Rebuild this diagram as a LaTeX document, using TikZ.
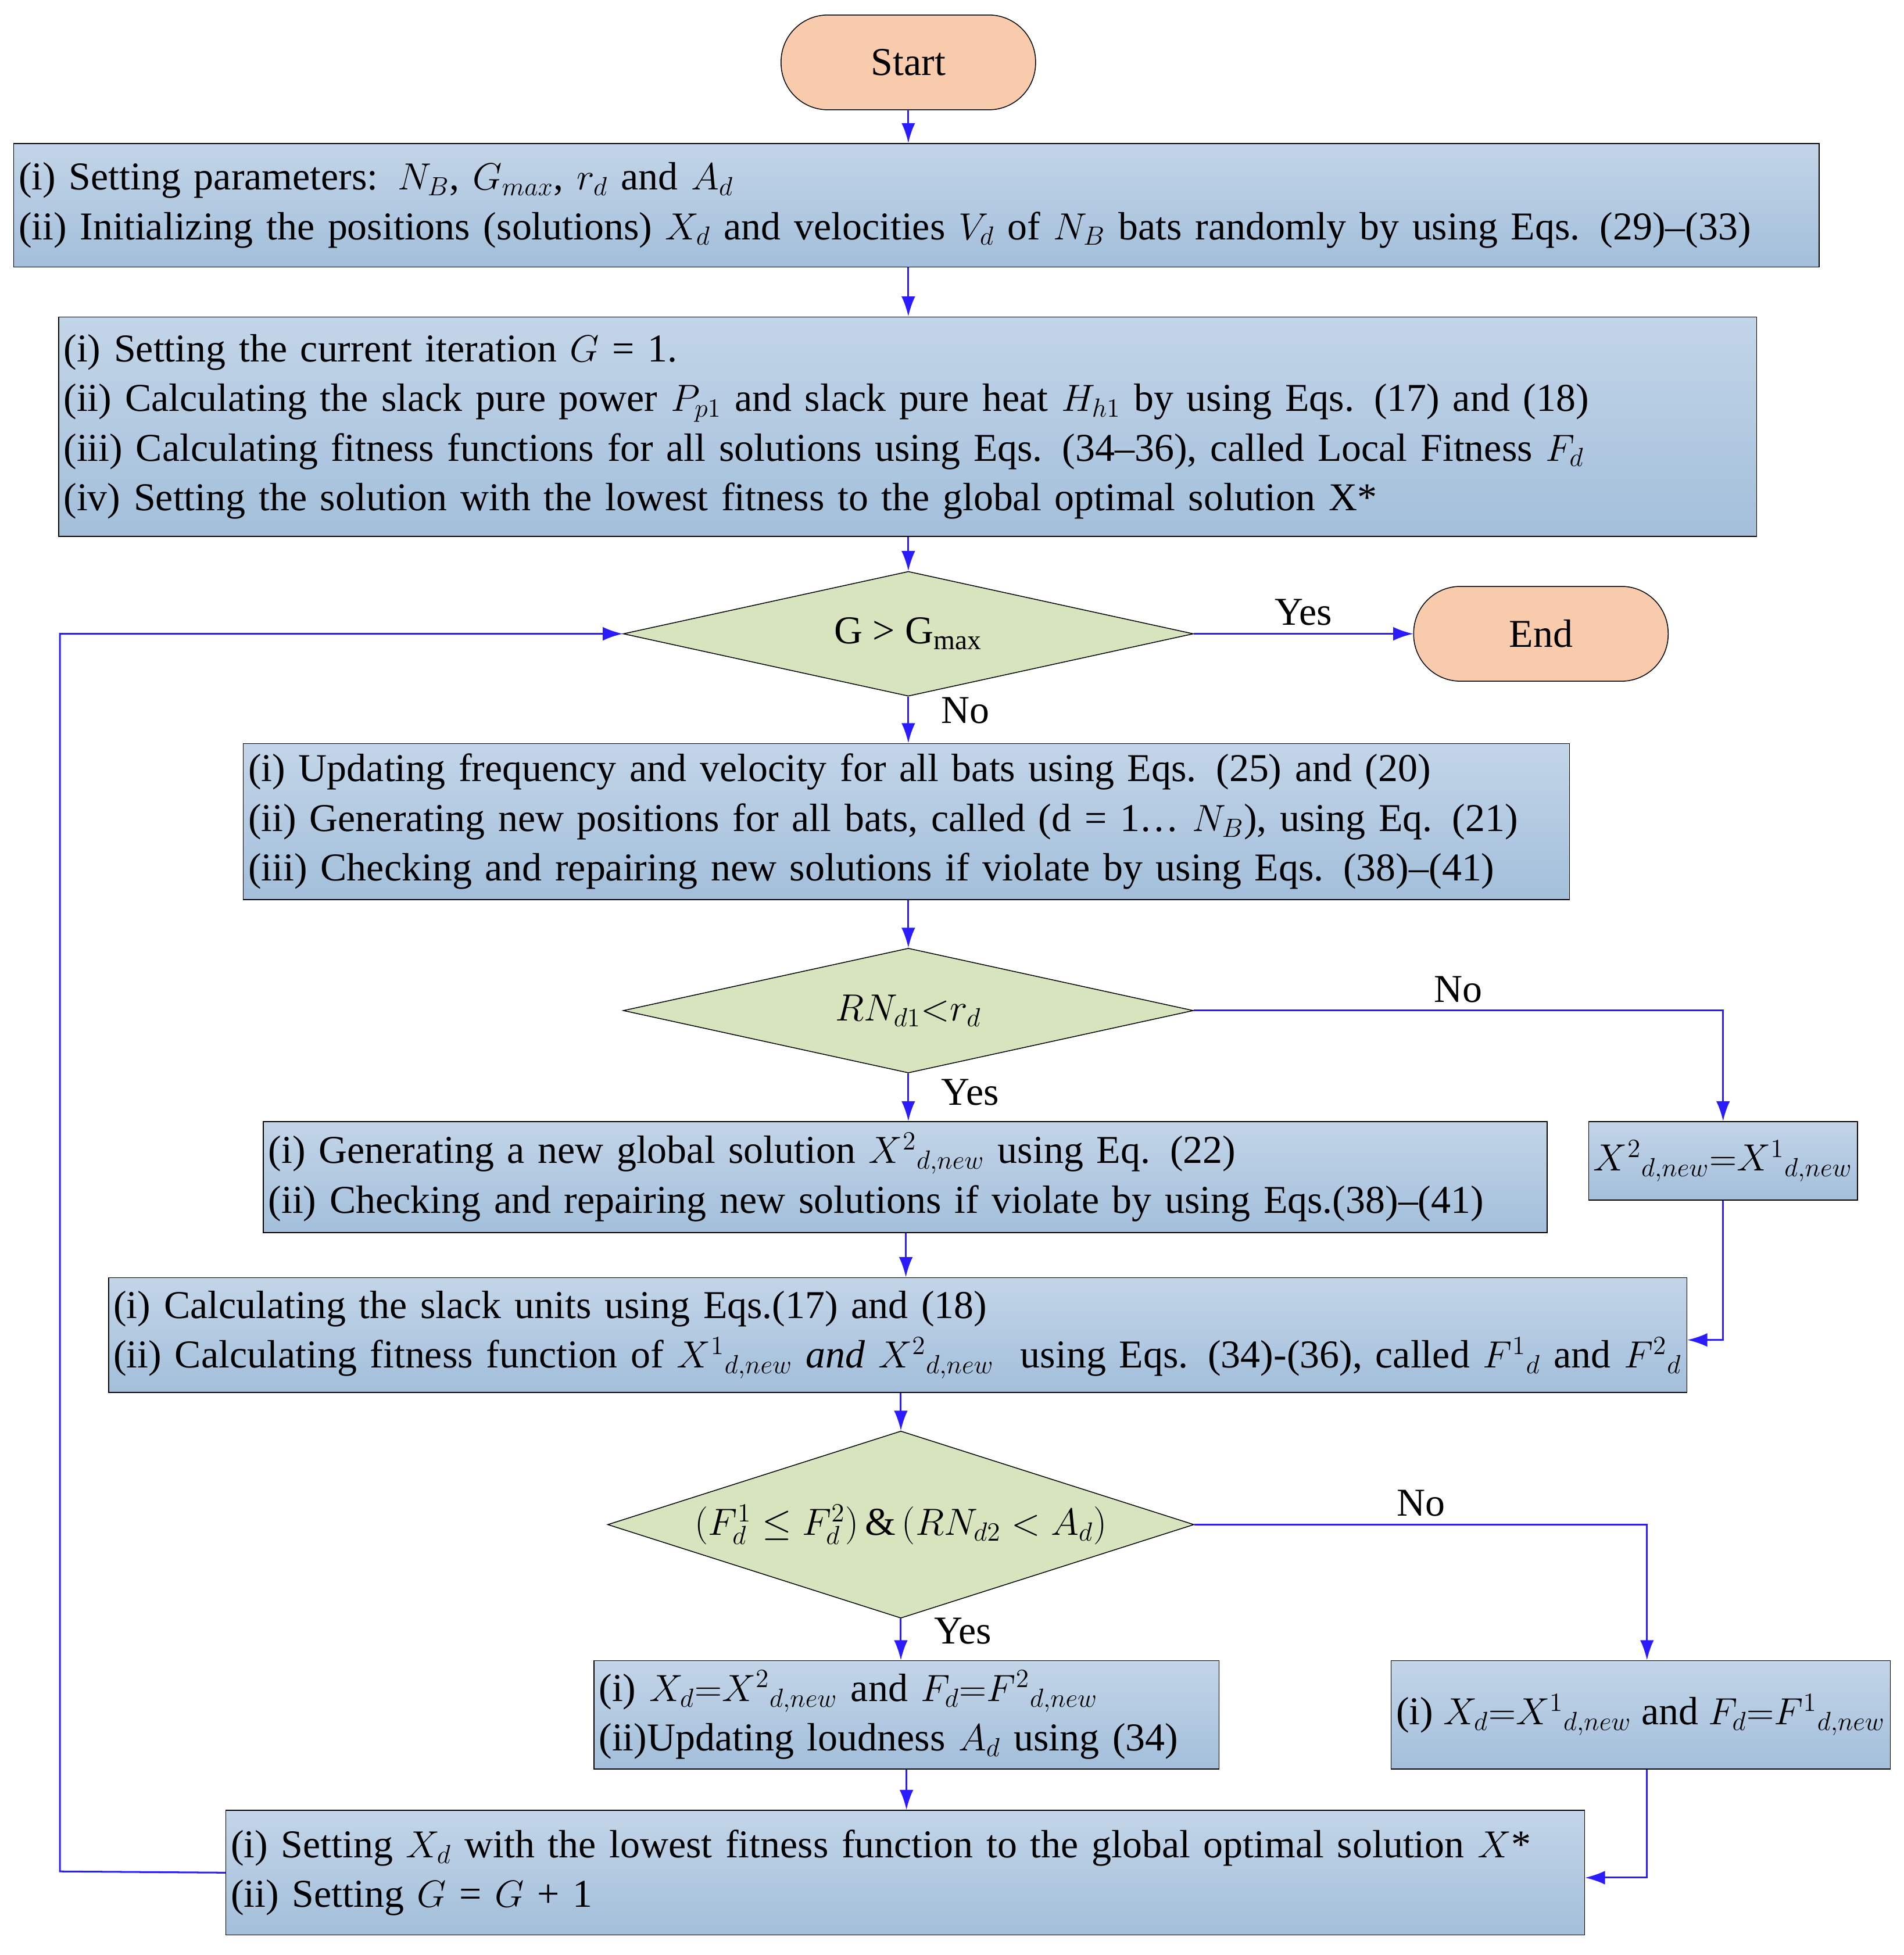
\documentclass[tikz,border=0pt]{standalone}
\usepackage{fontspec}
\setmainfont{Liberation Serif}
\usetikzlibrary{shapes.geometric,arrows.meta}
\definecolor{peach}{HTML}{F8CBAD}
\definecolor{boxtop}{HTML}{C3D5E8}
\definecolor{boxbot}{HTML}{A3BFDB}
\definecolor{olive}{HTML}{D7E4BD}
\definecolor{flow}{HTML}{2B1BFF}
\begin{document}
\begin{tikzpicture}[
        font=\fontsize{18}{22.6}\selectfont,
        terminal/.style={draw, fill=peach, rounded corners=0.75cm, minimum width=4.08cm, minimum height=1.52cm},
        procbox/.style={draw, top color=boxtop, bottom color=boxbot, align=left, inner sep=0.08cm},
        decision/.style={draw, fill=olive, diamond, inner sep=0pt},
        flowline/.style={draw=flow, thick, -{Latex[length=0.32cm,width=0.22cm]}},
        ans/.style={font=\fontsize{18}{20}\selectfont},
        ]
        \useasboundingbox (0,0) rectangle (30.52,-31.34);
        \node[terminal] (start) at (14.56,-1.0) {Start};
        \node[procbox, minimum width=28.94cm, minimum height=1.98cm, text width=28.78cm] (init) at (14.69,-3.29)
            {(i) Setting parameters: $N_B$, $G_{max}$, $r_d$ and $A_d$\\
             (ii) Initializing the positions (solutions) $X_d$ and velocities $V_d$ of $N_B$ bats randomly by using Eqs. (29)--(33)};
        \node[procbox, minimum width=27.22cm, minimum height=3.52cm, text width=27.06cm] (eval) at (14.55,-6.84)
            {(i) Setting the current iteration $G$ = 1.\\
             (ii) Calculating the slack pure power $P_{p1}$ and slack pure heat $H_{h1}$ by using Eqs. (17) and (18)\\
             (iii) Calculating fitness functions for all solutions using Eqs. (34--36), called Local Fitness $F_d$\\
             (iv) Setting the solution with the lowest fitness to the global optimal solution X*};
        \node[decision, aspect=4.57, minimum width=9.14cm, minimum height=2.0cm] (gtest) at (14.56,-10.16) {G > G\textsubscript{max}};
        \node[terminal] (stop) at (24.7,-10.16) {End};
        \node[procbox, minimum width=21.26cm, minimum height=2.5cm, text width=21.1cm] (move) at (14.53,-13.17)
            {(i) Updating frequency and velocity for all bats using Eqs. (25) and (20)\\
             (ii) Generating new positions for all bats, called (d = 1\dots\ $N_B$), using Eq. (21)\\
             (iii) Checking and repairing new solutions if violate by using Eqs. (38)--(41)};
        \node[decision, aspect=4.57, minimum width=9.14cm, minimum height=2.0cm] (rtest) at (14.56,-16.2) {$RN_{d1}{<}r_d$};
        \node[procbox, minimum width=20.58cm, minimum height=1.78cm, text width=20.42cm] (glob) at (14.51,-18.87)
            {(i) Generating a new global solution $X^2{}_{d,new}$ using Eq. (22)\\
             (ii) Checking and repairing new solutions if violate by using Eqs.(38)--(41)};
        \node[procbox, minimum width=4.12cm, minimum height=1.26cm] (copy) at (27.62,-18.61)
            {$X^2{}_{d,new}{=}X^1{}_{d,new}$};
        \node[procbox, minimum width=25.3cm, minimum height=1.84cm, text width=25.14cm] (fit) at (14.39,-21.4)
            {(i) Calculating the slack units using Eqs.(17) and (18)\\
             (ii) Calculating fitness function of $X^1{}_{d,new}$ \textit{and} $X^2{}_{d,new}$ \ using Eqs. (34)-(36), called $F^1{}_d$ and $F^2{}_d$};
        \node[decision, aspect=3.13, minimum width=9.4cm, minimum height=3.0cm] (atest) at (14.44,-24.44)
            {$(F_d^1 \le F_d^2)\,\&\,(RN_{d2} < A_d)$};
        \node[procbox, minimum width=10.02cm, minimum height=1.74cm, text width=9.86cm] (accept) at (14.53,-27.49)
            {(i) $X_d{=}X^2{}_{d,new}$ and $F_d{=}F^2{}_{d,new}$\\
             (ii)Updating loudness $A_d$ using (34)};
        \node[procbox, minimum width=7.92cm, minimum height=1.74cm] (reject) at (26.3,-27.49)
            {(i) $X_d{=}X^1{}_{d,new}$ and $F_d{=}F^1{}_{d,new}$};
        \node[procbox, minimum width=21.78cm, minimum height=2.0cm, text width=21.62cm] (best) at (14.51,-30.02)
            {(i) Setting $X_d$ with the lowest fitness function to the global optimal solution $X$*\\
             (ii) Setting $G$ = $G$ + 1};
        \coordinate (loop) at (0.96,-30.0);
        % connectors
        \draw[flowline] (start) -- (start |- init.north);
        \draw[flowline] (init.south -| start) -- (eval.north -| start);
        \draw[flowline] (eval.south -| gtest) -- (gtest.north);
        \draw[flowline] (gtest) -- node[ans, above, pos=0.5] {Yes} (stop);
        \draw[flowline] (gtest) -- node[ans, right, pos=0.3, xshift=0.4cm] {No} (move.north -| gtest);
        \draw[flowline] (move.south -| rtest) -- (rtest.north);
        \draw[flowline] (rtest) -- node[ans, right, pos=0.4, xshift=0.4cm] {Yes} (glob.north -| rtest);
        \draw[flowline] (rtest.east) -- node[ans, above, pos=0.5] {No} (rtest.east -| copy) -- (copy.north);
        \draw[flowline] (copy.south) |- ([yshift=-0.08cm]fit.east);
        \draw[flowline] (glob.south -| 14.52,0) -- (fit.north -| 14.52,0);
        \draw[flowline] (fit.south -| atest) -- (atest.north);
        \draw[flowline] (atest) -- node[ans, right, pos=0.3, xshift=0.4cm] {Yes} (accept.north -| atest);
        \draw[flowline] (atest.east) -- node[ans, above, pos=0.5] {No} (atest.east -| 26.4,0) -- (accept.north -| 26.4,0);
        \draw[flowline] (accept) -- (best.north -| accept);
        \draw[flowline] (reject.south -| 26.4,0) |- ([yshift=-0.08cm]best.east);
        \draw[flowline] (best.west) -- (loop) |- (gtest.west);
\end{tikzpicture}
\end{document}
